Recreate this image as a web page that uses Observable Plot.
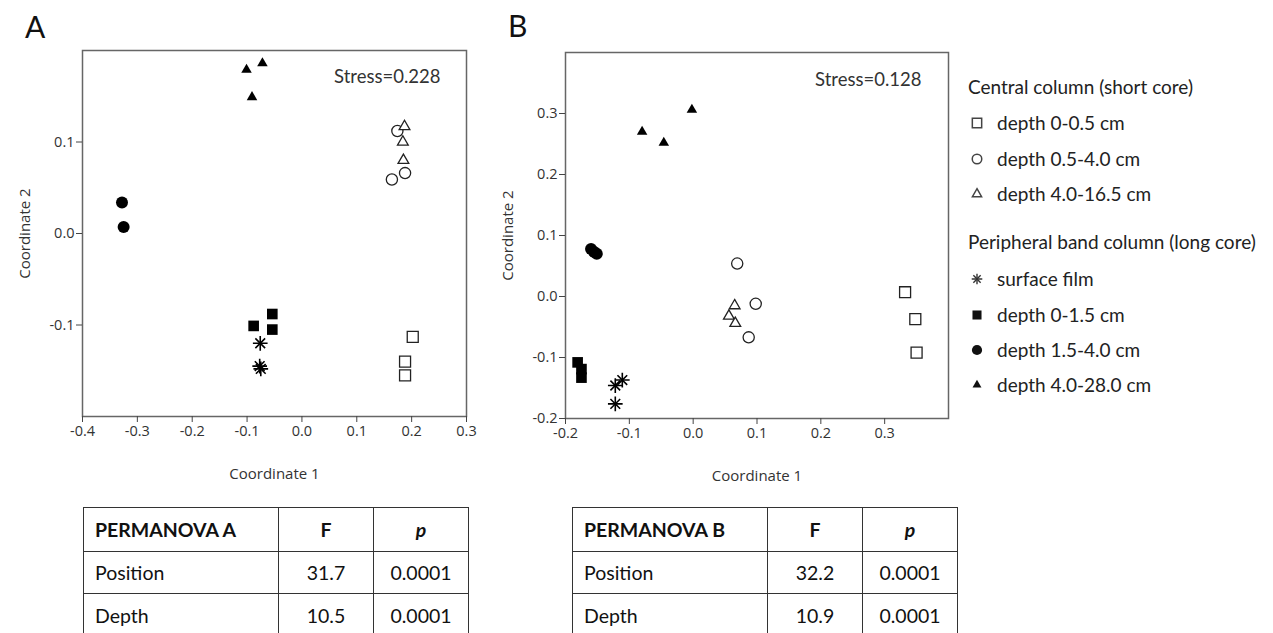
<!DOCTYPE html>
<html><head><meta charset="utf-8">
<script src="https://cdn.jsdelivr.net/npm/d3@7"></script>
<script src="https://cdn.jsdelivr.net/npm/@observablehq/plot@0.6"></script>
<style>
html,body{margin:0;padding:0;background:#fff;width:1273px;height:633px;overflow:hidden;font-family:Lato,sans-serif;}
#root{position:relative;width:1273px;height:633px;}
.abs{position:absolute;}
.panel-letter{font-family:Lato,sans-serif;font-size:30px;line-height:30px;color:#111;}
.lg{position:absolute;font-family:Lato,sans-serif;font-size:19px;line-height:20px;color:#222;white-space:nowrap;}
table.perm{position:absolute;border-collapse:collapse;font-family:Lato,sans-serif;font-size:19.5px;color:#111;table-layout:fixed;}
table.perm td{border:1px solid #333;padding:0;}
table.perm td.l{text-align:left;padding-left:11px;}
table.perm td.c{text-align:center;}
</style></head><body><div id="root"></div>
<script>
// ---------------- data ----------------
const groupCodes = ["C1","C2","C3","P0","P1","P2","P3"];
const centralHeader = "Central column (short core)";
const peripheralHeader = "Peripheral band column (long core)";
const centralLabels = ["depth 0-0.5 cm","depth 0.5-4.0 cm","depth 4.0-16.5 cm"];
const peripheralLabels = ["surface film","depth 0-1.5 cm","depth 1.5-4.0 cm","depth 4.0-28.0 cm"];

// Panel A (NMDS)
const aGroup = ["C1","C1","C1","C2","C2","C2","C3","C3","C3","P0","P0","P0","P1","P1","P1","P2","P2","P3","P3","P3"];
const aX = [0.202,0.188,0.188, 0.164,0.188,0.174, 0.187,0.184,0.185, -0.076,-0.077,-0.075, -0.088,-0.054,-0.054, -0.328,-0.325, -0.101,-0.072,-0.091];
const aY = [-0.113,-0.140,-0.155, 0.059,0.066,0.112, 0.117,0.100,0.080, -0.120,-0.145,-0.148, -0.101,-0.088,-0.105, 0.034,0.007, 0.179,0.186,0.149];
const aXTicks = [-0.4,-0.3,-0.2,-0.1,0.0,0.1,0.2,0.3];
const aYTicks = [-0.1,0.0,0.1];
const aStress = "Stress=0.228";

// Panel B (NMDS)
const bGroup = ["C1","C1","C1","C2","C2","C2","C3","C3","C3","P0","P0","P0","P1","P1","P1","P2","P2","P2","P3","P3","P3"];
const bX = [0.332,0.348,0.350, 0.069,0.098,0.087, 0.065,0.056,0.066, -0.111,-0.122,-0.122, -0.181,-0.175,-0.175, -0.160,-0.155,-0.151, -0.080,-0.046,-0.002];
const bY = [0.007,-0.037,-0.092, 0.054,-0.012,-0.067, -0.015,-0.032,-0.044, -0.137,-0.146,-0.176, -0.108,-0.119,-0.133, 0.078,0.073,0.070, 0.270,0.252,0.306];
const bXTicks = [-0.2,-0.1,0.0,0.1,0.2,0.3];
const bYTicks = [-0.2,-0.1,0.0,0.1,0.2,0.3];
const bStress = "Stress=0.128";

// PERMANOVA tables
const permHeaders = ["F","p"];
const permRows = ["Position","Depth"];
const permA_F = ["31.7","10.5"];
const permA_p = ["0.0001","0.0001"];
const permB_F = ["32.2","10.9"];
const permB_p = ["0.0001","0.0001"];

// ---------------- styles ----------------
const styleOf = {
  C1:{symbol:"square", r:6.2, fill:"white", stroke:"#222", strokeWidth:1.3},
  C2:{symbol:"circle", r:5.6, fill:"white", stroke:"#222", strokeWidth:1.3},
  C3:{symbol:"triangle", r:4.0, fill:"white", stroke:"#222", strokeWidth:1.3},
  P0:null,
  P1:{symbol:"square", r:6.0, fill:"#000", stroke:"none"},
  P2:{symbol:"circle", r:6.0, fill:"#000", stroke:"none"},
  P3:{symbol:"triangle", r:3.9, fill:"#000", stroke:"none"}
};

const root = document.getElementById("root");
const fmt = d => d.toFixed(1);

function panel(groups, xs, ys, xDomain, yDomain, xTicks, yTicks, stress, m, left, w, h){
  const data = xs.map((x,i)=>({x, y: ys[i], g: groups[i]}));
  const marks = [];
  marks.push(Plot.frame({stroke:"#666", strokeWidth:1.5}));
  marks.push(Plot.axisX({ticks:xTicks, tickFormat:fmt, tickSize:6, tickPadding:3, label:null, stroke:"#444", fontSize:14.5}));
  marks.push(Plot.axisY({ticks:yTicks, tickFormat:fmt, tickSize:6, tickPadding:2, label:null, stroke:"#444", fontSize:14.5}));
  marks.push(Plot.text(["Coordinate 1"], {frameAnchor:"bottom", dy:58, lineAnchor:"middle", fontSize:15, fill:"#333"}));
  marks.push(Plot.text(["Coordinate 2"], {frameAnchor:"left", dx:-57, rotate:-90, textAnchor:"middle", lineAnchor:"middle", fontSize:15, fill:"#333"}));
  for (const g of groupCodes){
    const sub = data.filter(d=>d.g===g);
    if (!sub.length) continue;
    if (g === "P0"){
      marks.push(Plot.dot(sub, {x:"x", y:"y", symbol:"plus", r:4.8, stroke:"#000", strokeWidth:1.6}));
      marks.push(Plot.dot(sub, {x:"x", y:"y", symbol:"times", r:4.5, stroke:"#000", strokeWidth:1.6}));
    } else {
      const s = styleOf[g];
      marks.push(Plot.dot(sub, {x:"x", y:"y", ...s}));
    }
  }
  marks.push(Plot.text([stress], {frameAnchor:"top-right", dx:m.sdx, dy:m.sdy, textAnchor:"end", lineAnchor:"middle", fontFamily:"Lato", fontSize:18.5, fill:"#333"}));
  const svg = Plot.plot({
    width:w, height:h,
    marginLeft:m.l, marginRight:m.r, marginTop:m.t, marginBottom:m.b,
    x:{domain:xDomain}, y:{domain:yDomain},
    style:{fontFamily:"'Open Sans', sans-serif", fontSize:"14.5px", color:"#333", background:"transparent", overflow:"visible"},
    marks
  });
  svg.style.position = "absolute";
  svg.style.left = left + "px";
  svg.style.top = "0px";
  root.appendChild(svg);
}

panel(aGroup, aX, aY, [-0.4,0.3], [-0.2,0.2], aXTicks, aYTicks, aStress,
  {l:82, r:14, t:50, b:84, sdx:-26, sdy:27}, 0, 480, 500);
panel(bGroup, bX, bY, [-0.2,0.4], [-0.2,0.4], bXTicks, bYTicks, bStress,
  {l:85, r:12, t:52, b:82, sdx:-27, sdy:28}, 480, 960-480, 500);

// panel letters
function letter(t, x, y){
  const d = document.createElement("div");
  d.className = "abs panel-letter"; d.textContent = t;
  d.style.left = x+"px"; d.style.top = y+"px";
  root.appendChild(d);
}
letter("A", 25, 11);
letter("B", 508, 10);

// legend
function legendSymbol(g, cx, cy){
  const ns = "http://www.w3.org/2000/svg";
  const svg = document.createElementNS(ns, "svg");
  svg.setAttribute("width", 20); svg.setAttribute("height", 20);
  svg.style.position = "absolute";
  svg.style.left = (cx-10)+"px"; svg.style.top = (cy-10)+"px";
  const add = (sym, r, fill, stroke, sw) => {
    const p = document.createElementNS(ns, "path");
    p.setAttribute("d", d3.symbol(sym, r*r*Math.PI)());
    p.setAttribute("transform", "translate(10,10)");
    p.setAttribute("fill", fill); p.setAttribute("stroke", stroke);
    if (sw) p.setAttribute("stroke-width", sw);
    svg.appendChild(p);
  };
  const map = {square:d3.symbolSquare, circle:d3.symbolCircle, triangle:d3.symbolTriangle};
  if (g === "P0"){
    add(d3.symbolPlus, 3.5, "none", "#333", 1.4);
    add(d3.symbolTimes, 3.4, "none", "#333", 1.4);
  } else {
    const s = styleOf[g];
    const r = s.r * 0.85;
    if (s.fill === "white") add(map[s.symbol], r, "white", "#444", 1.5);
    else add(map[s.symbol], r, "#111", "none");
  }
  root.appendChild(svg);
}
function legendText(t, x, cy){
  const d = document.createElement("div");
  d.className = "lg"; d.textContent = t;
  d.style.left = x+"px"; d.style.top = (cy-10.5)+"px";
  root.appendChild(d);
}
const lgCentralY = [123, 159, 194];
const lgPeriphY = [279, 315, 350, 385];
legendText(centralHeader, 968, 87);
centralLabels.forEach((t,i)=>{ legendSymbol(groupCodes[i], 977, lgCentralY[i]); legendText(t, 997, lgCentralY[i]); });
legendText(peripheralHeader, 968, 242);
peripheralLabels.forEach((t,i)=>{ legendSymbol(groupCodes[3+i], 977, lgPeriphY[i]); legendText(t, 997, lgPeriphY[i]); });

// tables
function permTable(title, F, P, left, widths){
  const tb = document.createElement("table");
  tb.className = "perm";
  tb.style.left = left+"px"; tb.style.top = "507px";
  const cg = document.createElement("colgroup");
  widths.forEach(w=>{ const c = document.createElement("col"); c.style.width = w+"px"; cg.appendChild(c); });
  tb.appendChild(cg);
  const rows = [[title, permHeaders[0], permHeaders[1]], ...permRows.map((r,i)=>[r, F[i], P[i]])];
  const heights = [44, 42, 44];
  rows.forEach((r, ri)=>{
    const tr = document.createElement("tr");
    tr.style.height = heights[ri]+"px";
    r.forEach((v, ci)=>{
      const td = document.createElement("td");
      td.className = ci===0 ? "l" : "c";
      if (ri===0){
        td.style.fontWeight = "bold";
        if (ci===2) td.style.fontStyle = "italic";
      }
      td.textContent = v;
      tr.appendChild(td);
    });
    tb.appendChild(tr);
  });
  root.appendChild(tb);
}
permTable("PERMANOVA A", permA_F, permA_p, 83, [195, 95, 95]);
permTable("PERMANOVA B", permB_F, permB_p, 572, [195, 95, 95]);
</script></body></html>
